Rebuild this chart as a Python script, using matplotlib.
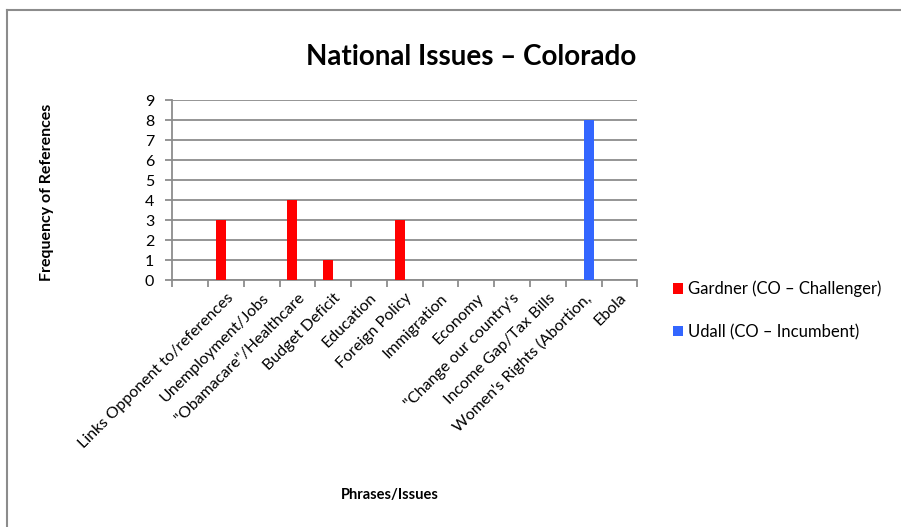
import matplotlib
matplotlib.use("Agg")
import matplotlib.pyplot as plt
from matplotlib.lines import Line2D
import numpy as np

plt.rcParams['font.family'] = ['Lato', 'DejaVu Sans']

# --- data ---
categories = [
    "",
    "Links Opponent to/references",
    "Unemployment/Jobs",
    "\"Obamacare\"/Healthcare",
    "Budget Deficit",
    "Education",
    "Foreign Policy",
    "Immigration",
    "Economy",
    "\"Change our country's",
    "Income Gap/Tax Bills",
    "Women's Rights (Abortion,",
    "Ebola",
]
gardner = [0, 3, 0, 4, 1, 0, 3, 0, 0, 0, 0, 0, 0]
udall = [0, 0, 0, 0, 0, 0, 0, 0, 0, 0, 0, 8, 0]
series_names = ["Gardner (CO – Challenger)", "Udall (CO – Incumbent)"]
colors = ["#FF0000", "#3366FF"]
yticks = list(range(0, 10))

fig = plt.figure(figsize=(9.01, 5.27), dpi=100)
W, H = 901, 527

# outer chart border (top and left visible)
fig.add_artist(Line2D([7 / W, 1], [1 - 10 / H, 1 - 10 / H], color="#8c8c8c", lw=1.5))
fig.add_artist(Line2D([7 / W, 7 / W], [0, 1 - 10 / H], color="#8c8c8c", lw=1.5))

ax = fig.add_axes([172.3 / W, 1 - 280 / H, 465 / W, 180 / H])

x = np.arange(len(categories))
bw = 1 / 3.5
ax.bar(x - bw / 2, gardner, width=bw, color=colors[0], label=series_names[0], zorder=3)
ax.bar(x + bw / 2, udall, width=bw, color=colors[1], label=series_names[1], zorder=3)

ax.set_xlim(-0.5, len(categories) - 0.5)
ax.set_ylim(0, 9)

# gridlines and spines
ax.set_yticks(yticks)
ax.set_yticklabels([str(v) for v in yticks], fontsize=11.5)
ax.yaxis.grid(True, color="#8c8c8c", lw=1.3, zorder=0)
for s in ["top", "right"]:
    ax.spines[s].set_visible(False)
for s in ["left", "bottom"]:
    ax.spines[s].set_color("#8c8c8c")
    ax.spines[s].set_linewidth(1.3)
ax.tick_params(axis="y", length=5, color="#8c8c8c", width=1.3, pad=8)

# x ticks at category boundaries, labels at centers
ax.set_xticks(np.arange(-0.5, len(categories), 1.0))
ax.set_xticklabels([])
ax.tick_params(axis="x", which="major", length=5, color="#8c8c8c", width=1.3)
ax.set_xticks(x, minor=True)
ax.set_xticklabels(categories, minor=True, rotation=45, ha="right", va="top",
                   rotation_mode="anchor", fontsize=11.5)
ax.tick_params(axis="x", which="minor", length=0, pad=8)

fig.text(471 / W, 1 - 57 / H, "National Issues – Colorado", ha="center", va="center",
         fontsize=20, fontweight="bold")
fig.text(47 / W, 1 - 192 / H, "Frequency of References", ha="center", va="center",
         rotation=90, fontsize=11.5, fontweight="bold")
fig.text(390 / W, 1 - 495 / H, "Phrases/Issues", ha="center", va="center",
         fontsize=10.5, fontweight="bold")

fig.legend(loc="upper left", bbox_to_anchor=(666 / W, 1 - 274 / H), frameon=False,
           handlelength=0.6, handleheight=0.6, handletextpad=0.3, labelspacing=1.6,
           fontsize=12, borderaxespad=0)

fig.savefig("out.png", dpi=100)
plt.close(fig)
